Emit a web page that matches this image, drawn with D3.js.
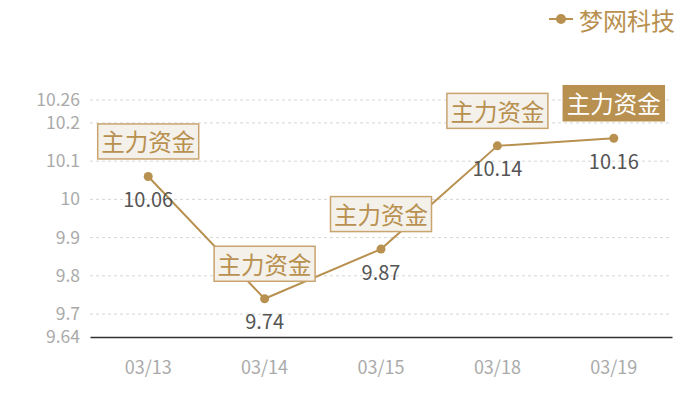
<!DOCTYPE html>
<html lang="zh">
<head>
<meta charset="utf-8">
<title>梦网科技</title>
<script src="https://d3js.org/d3.v7.min.js"></script>
<style>
  body { margin: 0; background: #fff; }
  svg { font-family: "Noto Sans CJK SC", "Noto Sans", sans-serif; }
</style>
</head>
<body>
<svg id="chart" width="700" height="400"></svg>
<script>
// data
const dates = ["03/13", "03/14", "03/15", "03/18", "03/19"];
const prices = [10.06, 9.74, 9.87, 10.14, 10.16];
const yTicks = [9.64, 9.7, 9.8, 9.9, 10, 10.1, 10.2, 10.26];
const seriesName = "梦网科技";
const markText = "主力资金";

const svg = d3.select("#chart");
const gold = "#b8904f";
const margin = { left: 90, right: 28, top: 100, bottom: 63 };
const W = 700, H = 400;

const x = d3.scaleBand().domain(dates).range([margin.left, W - margin.right]);
const y = d3.scaleLinear().domain([9.64, 10.26]).range([H - margin.bottom, margin.top]);

// grid
svg.append("g").selectAll("line")
  .data(yTicks.slice(1))
  .join("line")
  .attr("x1", margin.left).attr("x2", W - margin.right)
  .attr("y1", d => y(d)).attr("y2", d => y(d))
  .attr("stroke", "#d6d6d6")
  .attr("stroke-dasharray", "3,3");

// y axis labels
const yAxis = svg.append("g")
  .attr("transform", `translate(${margin.left},0)`)
  .call(d3.axisLeft(y).tickValues(yTicks).tickFormat(d => String(d)).tickSize(0).tickPadding(10));
yAxis.select(".domain").remove();
yAxis.selectAll("text").attr("fill", "#aaa").attr("font-size", 17.5)
  .style("font-family", "'Noto Sans CJK SC', sans-serif");

// x axis
const xAxis = svg.append("g")
  .attr("transform", `translate(0,${y(9.64)})`)
  .call(d3.axisBottom(x).tickSize(0).tickPadding(24));
xAxis.select(".domain").attr("stroke", "#333").attr("stroke-width", 1.5);
xAxis.selectAll("text").attr("fill", "#aaa").attr("font-size", 18)
  .style("font-family", "'Noto Sans CJK SC', sans-serif");

const cx = d => x(d) + x.bandwidth() / 2;
const pts = dates.map((d, i) => ({ d, v: prices[i] }));

// line
svg.append("path")
  .datum(pts)
  .attr("fill", "none")
  .attr("stroke", gold)
  .attr("stroke-width", 2)
  .attr("d", d3.line().x(p => cx(p.d)).y(p => y(p.v)));

svg.append("g").selectAll("circle")
  .data(pts)
  .join("circle")
  .attr("cx", p => cx(p.d)).attr("cy", p => y(p.v))
  .attr("r", 4.5)
  .attr("fill", gold);

// value labels
svg.append("g").selectAll("text")
  .data(pts)
  .join("text")
  .attr("x", p => cx(p.d)).attr("y", p => y(p.v) + 22)
  .attr("text-anchor", "middle")
  .attr("dominant-baseline", "central")
  .attr("font-size", 20)
  .attr("fill", "#555")
  .text(p => p.v.toFixed(2));

// mark boxes
const maxV = d3.max(prices);
const marks = svg.append("g").selectAll("g")
  .data(pts)
  .join("g")
  .attr("transform", p => `translate(${cx(p.d)},${y(p.v) - 35})`);
marks.append("rect")
  .attr("x", -50.5).attr("y", -17.5)
  .attr("width", 101).attr("height", 35)
  .attr("fill", p => p.v === maxV ? gold : "#f4f0ea")
  .attr("stroke", p => p.v === maxV ? gold : "#c9a46e")
  .attr("stroke-width", 1.5);
marks.append("text")
  .attr("text-anchor", "middle")
  .attr("dominant-baseline", "central")
  .attr("font-size", 23.5)
  .attr("fill", p => p.v === maxV ? "#fff" : gold)
  .text(markText);

// legend
const lg = svg.append("g").attr("transform", "translate(549,19)");
lg.append("line").attr("x1", 0).attr("x2", 24).attr("stroke", gold).attr("stroke-width", 2);
lg.append("circle").attr("cx", 12).attr("r", 5).attr("fill", gold);
lg.append("text").attr("x", 30).attr("dominant-baseline", "central")
  .attr("font-size", 24).attr("fill", gold).text(seriesName);
</script>
</body>
</html>
